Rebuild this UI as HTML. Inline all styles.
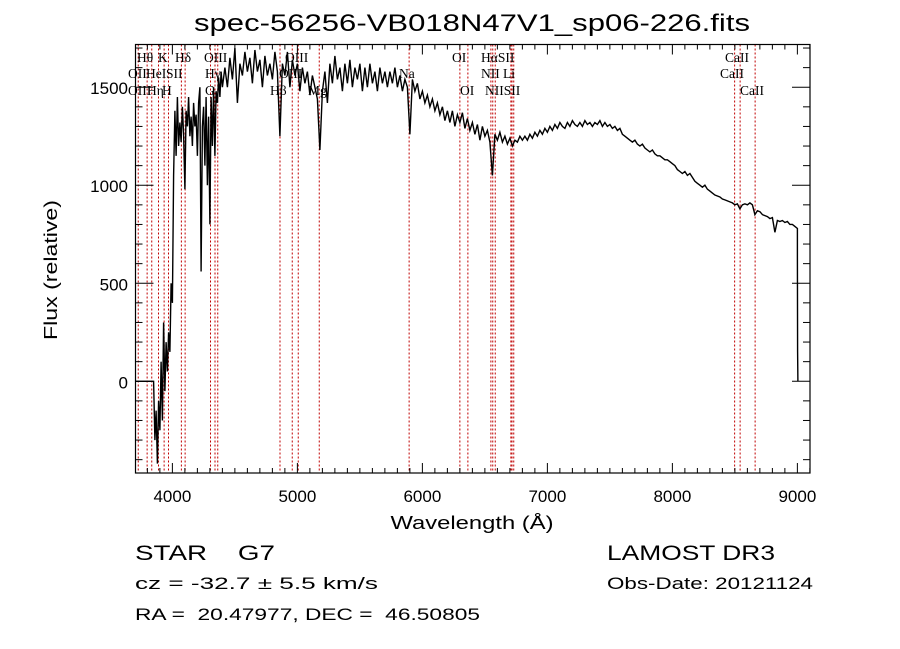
<!DOCTYPE html>
<html><head><meta charset="utf-8"><style>
html,body{margin:0;padding:0;background:#fff;}
svg{display:block;}
text{font-family:"Liberation Sans",sans-serif;fill:#000;white-space:pre;}
.ll{font-family:"Liberation Serif",serif;font-size:13.5px;}
</style></head><body>
<svg id="chart" width="900" height="649" viewBox="0 0 900 649" xmlns="http://www.w3.org/2000/svg" xml:space="preserve">
<rect x="0" y="0" width="900" height="649" fill="#fff"/>
<text x="472" y="31" font-size="24" text-anchor="middle" textLength="556" lengthAdjust="spacingAndGlyphs">spec-56256-VB018N47V1_sp06-226.fits</text>
<g id="lines"></g>
<g id="labels"></g>
<g id="axes"></g>
<polyline id="spec" fill="none" stroke="#000" stroke-width="1.4" stroke-linejoin="miter"/>
<rect x="135.5" y="44.5" width="674.5" height="428.5" fill="none" stroke="#000" stroke-width="1.2"/>
<text x="472" y="529" font-size="18" text-anchor="middle" textLength="163" lengthAdjust="spacingAndGlyphs">Wavelength (Å)</text>
<text transform="translate(57,270) rotate(-90)" font-size="18" text-anchor="middle" textLength="140" lengthAdjust="spacingAndGlyphs">Flux (relative)</text>
<text x="135" y="560" font-size="21" textLength="140" lengthAdjust="spacingAndGlyphs">STAR    G7</text>
<text x="607" y="560" font-size="21" textLength="168" lengthAdjust="spacingAndGlyphs">LAMOST DR3</text>
<text x="135" y="589" font-size="17" textLength="243" lengthAdjust="spacingAndGlyphs">cz = -32.7 ± 5.5 km/s</text>
<text x="607" y="589" font-size="17" textLength="206" lengthAdjust="spacingAndGlyphs">Obs-Date: 20121124</text>
<text x="135" y="620" font-size="17" textLength="345" lengthAdjust="spacingAndGlyphs">RA =  20.47977, DEC =  46.50805</text>
</svg>
<script>
const xTicks=[4000,5000,6000,7000,8000,9000];
const yTicks=[0,500,1000,1500];
const lineWaves=[3727,3798,3835,3889,3934,3969,4072,4102,4305,4341,4363,4861,4959,5007,5175,5894,6300,6364,6548,6563,6583,6708,6717,6731,8498,8542,8662];
const lineLabels=[["Hθ",137,62],["K",158,62],["Hδ",175,62],["OIII",204,62],["OIII",285,62],["OI",452,62],["HαSII",481,62],["CaII",725,62],
["OII",128,78],["HeI",146,78],["SII",166,78],["Hγ",205,78],["OIII",279,78],["Na",399,78],["NII",481,78],["Li",503,78],["CaII",720,78],
["OIII",128,95],["Hη",147,95],["H",162,95],["G",205,95],["Hβ",270,95],["Mg",308,95],["OI",460,95],["NIISII",485,95],["CaII",740,95]];
const headWave=[3705,3850];
const headFlux=[0,0];
const blueStart=3850, blueStep=10;
const blueFlux=[0,-300,-150,-420,-100,-250,100,-200,300,-50,200,50,250,150,500,400,1050,1380,1150,1450,1200,1320,1220,1400,1260,980,1380,1300,1450,1250,1350,1200,1420,1300,1360,1150,1420,1500,560,1300,1400,1100,1450,1000,1350,800,1450,1200,1500,1150,1480,1420,1550,1450,1580,1500];
const midStart=4420, midStep=20;
const midFlux=[1600,1500,1650,1540,1700,1420,1620,1560,1680,1580,1650,1520,1690,1580,1640,1500,1660,1560,1620,1540,1680,1580,1250,1620,1560,1680,1500,1640,1560,1620,1480,1600,1520,1580,1460,1560,1500,1440,1180,1480,1580,1420,1620,1520,1660,1540,1600,1480,1620,1520,1640,1500,1600,1540,1620,1480,1600,1500,1620,1520,1580,1480,1600,1520,1580,1500,1580,1520,1600,1500,1560,1480,1540,1500,1260,1540,1480,1520,1440,1480,1420,1460,1400,1440,1380,1420,1360,1400,1330,1380,1320,1380,1300,1360,1320,1370,1290,1340,1280,1320,1260,1310,1230,1300,1250,1280,1220,1050,1260,1230,1270,1220,1250,1210,1240,1200,1230,1220,1250,1230];
const redStart=6820, redStep=20;
const redFlux=[1250,1230,1260,1240,1270,1250,1280,1260,1290,1270,1300,1280,1310,1290,1320,1300,1290,1320,1300,1330,1310,1300,1320,1300,1330,1310,1320,1300,1320,1310,1330,1300,1320,1300,1310,1290,1300,1280,1290,1260,1250,1240,1230,1220,1230,1210,1200,1210,1190,1180,1170,1180,1160,1150,1150,1140,1130,1130,1120,1110,1100,1080,1070,1060,1070,1050,1060,1040,1020,1010,1000,990,1000,980,970,960,950,945,940,930,925,920,915,910,900,905,880,900,905,900,910,900,850,870,865,850,845,840,830,835,760,820,815,820,810,815,800,800,790,780];
const tailWave=[9000,9000,9002,9004];
const tailFlux=[780,630,150,0];

const X0=3705,X1=9101,PL=135.5,PR=810,Y0=-468,Y1=1718,PT=44.5,PB=473;
function sx(w){return PL+(w-X0)/(X1-X0)*(PR-PL);}
function sy(f){return PB-(f-Y0)/(Y1-Y0)*(PB-PT);}
const NS="http://www.w3.org/2000/svg";
function mk(tag,attrs,parent){const e=document.createElementNS(NS,tag);for(const k in attrs)e.setAttribute(k,attrs[k]);parent.appendChild(e);return e;}

const gl=document.getElementById('lines');
lineWaves.forEach(w=>{const l=mk('line',{x1:sx(w),x2:sx(w),y1:PT,y2:PB,stroke:'#c00000','stroke-width':1,'stroke-dasharray':'2,2'},gl);

});
const glab=document.getElementById('labels');
lineLabels.forEach(a=>{const t=mk('text',{x:a[1],y:a[2],class:'ll'},glab);t.textContent=a[0];

});

const ga=document.getElementById('axes');
for(let w=3800;w<=9100;w+=100){const major=w%1000===0;const len=major?10:5;
mk('line',{x1:sx(w),x2:sx(w),y1:PB,y2:PB-len,stroke:'#000','stroke-width':1},ga);
mk('line',{x1:sx(w),x2:sx(w),y1:PT,y2:PT+len,stroke:'#000','stroke-width':1},ga);}
for(let f=-400;f<=1700;f+=100){const major=f%500===0;const len=major?18:7;
mk('line',{x1:PL,x2:PL+len,y1:sy(f),y2:sy(f),stroke:'#000','stroke-width':1},ga);
mk('line',{x1:PR,x2:PR-len,y1:sy(f),y2:sy(f),stroke:'#000','stroke-width':1},ga);}
xTicks.forEach(w=>{const t=mk('text',{x:sx(w),y:502,'font-size':17,'text-anchor':'middle'},ga);t.textContent=w;

});
yTicks.forEach(f=>{const t=mk('text',{x:128,y:sy(f)+7,'font-size':17,'text-anchor':'end'},ga);t.textContent=f;

});

const pts=[];
headWave.forEach((w,i)=>pts.push([w,headFlux[i]]));
blueFlux.forEach((f,i)=>pts.push([blueStart+i*blueStep,f]));
midFlux.forEach((f,i)=>pts.push([midStart+i*midStep,f]));
redFlux.forEach((f,i)=>pts.push([redStart+i*redStep,f]));
tailWave.forEach((w,i)=>pts.push([w,tailFlux[i]]));
document.getElementById('spec').setAttribute('points',pts.map(p=>sx(p[0]).toFixed(1)+','+sy(p[1]).toFixed(1)).join(' '));
</script>
</body></html>
